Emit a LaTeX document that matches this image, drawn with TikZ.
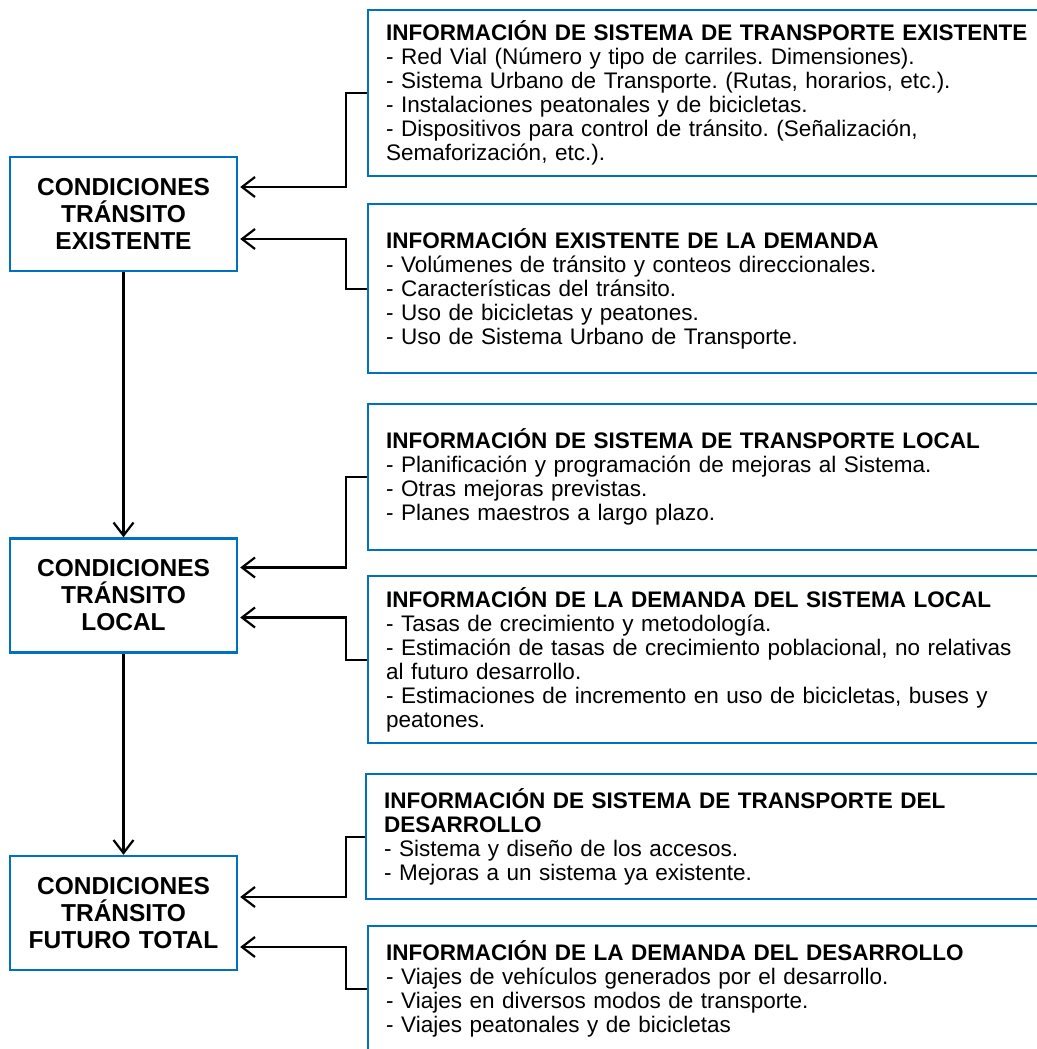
\documentclass[tikz,border=0pt]{standalone}
\usepackage{fontspec}
\setmainfont{Liberation Sans}
\frenchspacing
\usetikzlibrary{arrows.meta}
\definecolor{boxblue}{RGB}{0,112,192}

\begin{document}
\begin{tikzpicture}[x=1pt, y=-1pt, >={Straight Barb[length=13pt,width=20pt]}, line width=2.2pt,
        cond/.style={draw=boxblue, line width=2.4pt, align=center, text width=210pt, minimum width=227pt,
            minimum height=114pt, inner sep=0pt, font=\fontsize{24.5}{27}\selectfont\bfseries},
        info/.style={draw=boxblue, line width=2.4pt, anchor=north west, align=left, text width=700pt,
            inner xsep=18pt, inner ysep=0pt, font=\fontsize{22.5}{24}\selectfont}]
    \useasboundingbox (0, 0) rectangle (1036, 1049);
    \node[cond] (c0) at (123.5, 214) {CONDICIONES\\TRÁNSITO\\EXISTENTE};
    \node[cond] (c1) at (123.5, 595.5) {CONDICIONES\\TRÁNSITO\\LOCAL};
    \node[cond] (c2) at (123.5, 913) {CONDICIONES\\TRÁNSITO\\FUTURO TOTAL};
    \node[info, minimum height=166pt] (i0) at (367, 9) {\textbf{INFORMACIÓN DE SISTEMA DE TRANSPORTE EXISTENTE}\\
        - Red Vial (Número y tipo de carriles. Dimensiones).\\
        - Sistema Urbano de Transporte. (Rutas, horarios, etc.).\\
        - Instalaciones peatonales y de bicicletas.\\
        - Dispositivos para control de tránsito. (Señalización,\\
        Semaforización, etc.).};
    \node[info, minimum height=169pt] (i1) at (367, 203) {\textbf{INFORMACIÓN EXISTENTE DE LA DEMANDA}\\
        - Volúmenes de tránsito y conteos direccionales.\\
        - Características del tránsito.\\
        - Uso de bicicletas y peatones.\\
        - Uso de Sistema Urbano de Transporte.};
    \node[info, minimum height=146pt] (i2) at (367, 403) {\textbf{INFORMACIÓN DE SISTEMA DE TRANSPORTE LOCAL}\\
        - Planificación y programación de mejoras al Sistema.\\
        - Otras mejoras previstas.\\
        - Planes maestros a largo plazo.};
    \node[info, minimum height=167pt] (i3) at (367, 575) {\textbf{INFORMACIÓN DE LA DEMANDA DEL SISTEMA LOCAL}\\
        - Tasas de crecimiento y metodología.\\
        - Estimación de tasas de crecimiento poblacional, no relativas\\
        al futuro desarrollo.\\
        - Estimaciones de incremento en uso de bicicletas, buses y\\
        peatones.};
    \node[info, minimum height=125pt] (i4) at (365, 773) {\textbf{INFORMACIÓN DE SISTEMA DE TRANSPORTE DEL}\\
        \textbf{DESARROLLO}\\
        - Sistema y diseño de los accesos.\\
        - Mejoras a un sistema ya existente.};
    \node[info, minimum height=126pt] (i5) at (367, 925) {\textbf{INFORMACIÓN DE LA DEMANDA DEL DESARROLLO}\\
        - Viajes de vehículos generados por el desarrollo.\\
        - Viajes en diversos modos de transporte.\\
        - Viajes peatonales y de bicicletas};
    \path[->] (c0) edge (c1)
              (c1) edge (c2);
    \draw[->] (i0.west) -- ++(-21, 0) |- ([yshift=27pt, xshift=2pt]c0.east);
    \draw[->] (i1.west) -- ++(-21, 0) |- ([yshift=-25pt, xshift=2pt]c0.east);
    \draw[->] (i2.west) -- ++(-21, 0) |- ([yshift=28pt, xshift=2pt]c1.east);
    \draw[->] (i3.west) -- ++(-21, 0) |- ([yshift=-22pt, xshift=2pt]c1.east);
    \draw[->] (i4.west) -- ++(-19, 0) |- ([yshift=16pt, xshift=2pt]c2.east);
    \draw[->] (i5.west) -- ++(-21, 0) |- ([yshift=-34pt, xshift=2pt]c2.east);
\end{tikzpicture}
\end{document}
